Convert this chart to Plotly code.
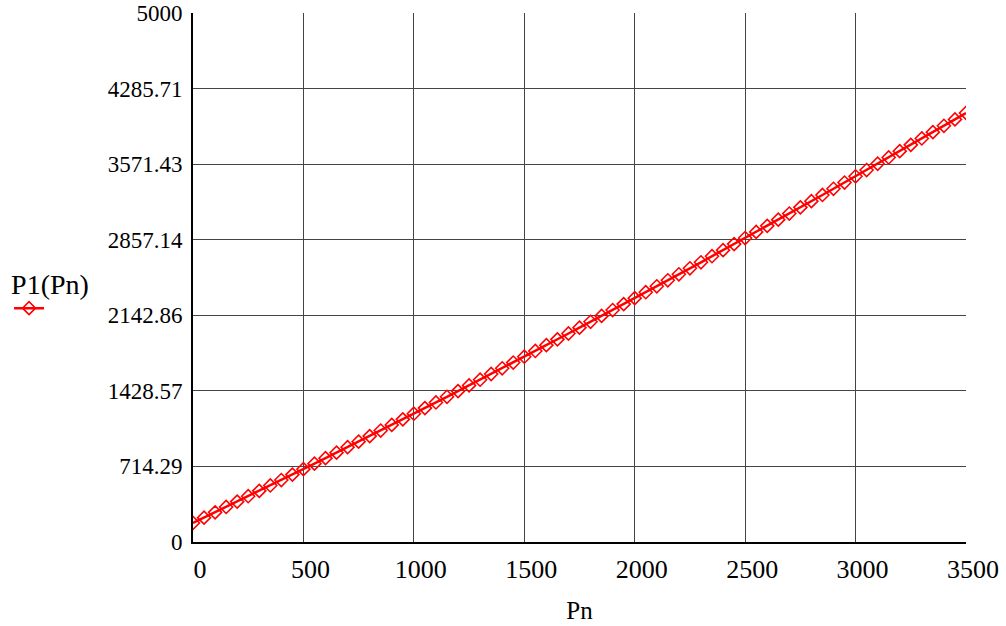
import plotly.graph_objects as go

# Data (Pn step 50, P1 values estimated)
pn = [0, 50, 100, 150, 200, 250, 300, 350, 400, 450,
      500, 550, 600, 650, 700, 750, 800, 850, 900, 950,
      1000, 1050, 1100, 1150, 1200, 1250, 1300, 1350, 1400, 1450,
      1500, 1550, 1600, 1650, 1700, 1750, 1800, 1850, 1900, 1950,
      2000, 2050, 2100, 2150, 2200, 2250, 2300, 2350, 2400, 2450,
      2500, 2550, 2600, 2650, 2700, 2750, 2800, 2850, 2900, 2950,
      3000, 3050, 3100, 3150, 3200, 3250, 3300, 3350, 3400, 3450, 3500]
p1 = [180.0, 230.2, 280.6, 331.0, 381.7, 432.5, 483.4, 534.5, 585.8, 637.2,
      688.7, 740.4, 792.3, 844.3, 896.4, 948.7, 1001.1, 1053.7, 1106.5, 1159.4,
      1212.4, 1265.6, 1319.0, 1372.4, 1426.1, 1479.8, 1533.8, 1587.9, 1642.1, 1696.5,
      1751.0, 1805.7, 1860.5, 1915.5, 1970.7, 2026.0, 2081.4, 2137.0, 2192.7, 2248.6,
      2304.6, 2360.8, 2417.1, 2473.6, 2530.2, 2587.0, 2643.9, 2701.0, 2758.2, 2815.6,
      2873.1, 2930.8, 2988.6, 3046.6, 3104.7, 3163.0, 3221.4, 3280.0, 3338.7, 3397.6,
      3456.6, 3515.7, 3575.1, 3634.6, 3694.2, 3753.9, 3813.9, 3874.0, 3934.1, 3994.5, 4055.0]

x_ticks = [0, 500, 1000, 1500, 2000, 2500, 3000, 3500]
y_ticks = [0, 714.29, 1428.57, 2142.86, 2857.14, 3571.43, 4285.71, 5000]
y_tick_text = ["0", "714.29", "1428.57", "2142.86", "2857.14", "3571.43", "4285.71", "5000"]

FONT = "Liberation Serif"

fig = go.Figure()
fig.add_trace(go.Scatter(
    x=pn, y=p1, mode="lines+markers", name=" ",
    line=dict(color="#ff0000", width=2.5),
    marker=dict(symbol="diamond-open", size=10, color="#ff0000",
                line=dict(color="#ff0000", width=1.6)),
    showlegend=True,
))

fig.update_layout(
    width=1006, height=626,
    margin=dict(l=193, r=40, t=13, b=84, autoexpand=False),
    paper_bgcolor="white", plot_bgcolor="white",
    font=dict(family=FONT, size=24, color="black"),
    legend=dict(
        xref="container", yref="container",
        x=0.009, y=0.589, xanchor="left", yanchor="top",
        title=dict(text="P1(Pn)", side="top", font=dict(family=FONT, size=28)),
        bgcolor="rgba(0,0,0,0)", itemwidth=30,
        font=dict(size=2),
    ),
    xaxis=dict(
        range=[0, 3500], tickvals=x_ticks, ticks="",
        showgrid=True, gridcolor="#444444", gridwidth=1,
        showline=True, linecolor="black", linewidth=2,
        zeroline=False, mirror=False, automargin=False,
        tickfont=dict(family=FONT, size=26),
        ticklabelshift=7, ticklabelstandoff=3,
        title=dict(text="Pn", font=dict(family=FONT, size=25), standoff=18),
    ),
    yaxis=dict(
        range=[0, 5000], tickvals=y_ticks, ticktext=y_tick_text, ticks="",
        showgrid=True, gridcolor="#444444", gridwidth=1,
        showline=True, linecolor="black", linewidth=2,
        zeroline=False, automargin=False,
        tickfont=dict(family=FONT, size=23),
        ticklabelstandoff=4,
    ),
)

fig.write_html(
    "out.html",
    config={"displayModeBar": False},
    post_script="document.body.style.margin='0';document.body.style.overflow='hidden';",
)
